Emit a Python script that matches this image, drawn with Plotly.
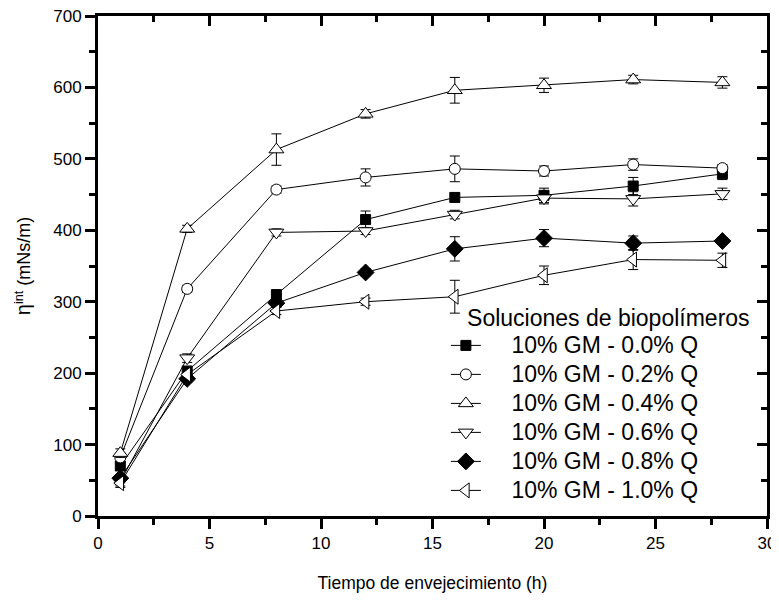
import plotly.graph_objects as go

tiempo = [1, 4, 8, 12, 16, 20, 24, 28]
series_names = ["10% GM - 0.0% Q", "10% GM - 0.2% Q", "10% GM - 0.4% Q",
                "10% GM - 0.6% Q", "10% GM - 0.8% Q", "10% GM - 1.0% Q"]
q00 = [70, 203, 310, 415, 446, 449, 462, 479]
q02 = [82, 318, 457, 474, 486, 483, 492, 487]
q04 = [88, 402, 513, 563, 596, 603, 611, 607]
q06 = [48, 221, 397, 399, 422, 445, 444, 451]
q08 = [53, 192, 298, 341, 374, 389, 382, 385]
q10 = [46, 198, 287, 300, 307, 337, 359, 358]
err00 = [6, 6, 6, 12, 6, 10, 12, 8]
err02 = [6, 5, 5, 12, 18, 7, 8, 5]
err04 = [6, 5, 22, 6, 18, 10, 6, 8]
err06 = [6, 6, 5, 5, 6, 8, 10, 8]
err08 = [5, 5, 5, 5, 17, 12, 10, 5]
err10 = [6, 6, 5, 5, 23, 13, 14, 10]

values = [q00, q02, q04, q06, q08, q10]
errors = [err00, err02, err04, err06, err08, err10]
symbols = ["square", "circle", "triangle-up", "triangle-down", "diamond", "triangle-left"]
fills = ["black", "white", "white", "white", "black", "white"]
sizes = [10, 11, 13, 13, 13, 13]

NB = "\u00a0" * 4

fig = go.Figure()
for name, y, e, sym, fc, sz in zip(series_names, values, errors, symbols, fills, sizes):
    fig.add_trace(go.Scatter(
        x=tiempo, y=y, name='<span style="font-size:23px">' + NB + name + "</span>",
        mode="lines+markers",
        line=dict(color="black", width=1),
        marker=dict(symbol=sym, size=sz, color=fc, line=dict(color="black", width=1)),
        error_y=dict(type="data", array=e, visible=True, color="black", thickness=1, width=5),
    ))

# mirror axes with inward ticks
fig.add_trace(go.Scatter(x=[None], y=[None], xaxis="x2", yaxis="y2", showlegend=False, hoverinfo="skip"))

font_family = "Liberation Sans, Arial, sans-serif"
tick_common = dict(showgrid=False, zeroline=False, showline=True, linecolor="black",
                   linewidth=3, tickwidth=3, tickcolor="black", ticklen=10, automargin=False,
                   ticklabeloverflow="allow")
fig.update_layout(
    width=771, height=600,
    margin=dict(l=90, r=12, t=8, b=92),
    paper_bgcolor="white", plot_bgcolor="white",
    font=dict(family=font_family, color="black"),
    showlegend=True,
    legend=dict(
        title=dict(text="\u00a0\u00a0\u00a0Soluciones de biopolímeros", font=dict(size=23)),
        font=dict(size=20),
        x=0.52, y=0.44, xanchor="left", yanchor="top",
        bgcolor="rgba(0,0,0,0)", tracegroupgap=0,
    ),
    xaxis=dict(
        range=[0, 30], dtick=5, tick0=0, ticks="outside",
        minor=dict(dtick=2.5, ticks="outside", ticklen=6, tickwidth=3, tickcolor="black"),
        tickfont=dict(size=17),
        title=dict(text="Tiempo de envejecimiento (h)", font=dict(size=17.5), standoff=25),
        **tick_common,
    ),
    yaxis=dict(
        range=[0, 700], dtick=100, tick0=0, ticks="outside",
        minor=dict(dtick=50, ticks="outside", ticklen=6, tickwidth=3, tickcolor="black"),
        tickfont=dict(size=17),
        title=dict(text="<span style='font-size:20px'>η</span><sup>int</sup> (mNs/m)",
                   font=dict(size=18), standoff=18),
        **tick_common,
    ),
    xaxis2=dict(
        range=[0, 30], dtick=5, overlaying="x", side="top", showticklabels=False, ticks="inside",
        minor=dict(dtick=2.5, ticks="inside", ticklen=6, tickwidth=3, tickcolor="black"),
        **tick_common,
    ),
    yaxis2=dict(
        range=[0, 700], dtick=100, overlaying="y", side="right", showticklabels=False, ticks="inside",
        minor=dict(dtick=50, ticks="inside", ticklen=6, tickwidth=3, tickcolor="black"),
        **tick_common,
    ),
)

fig.write_html("out.html")
